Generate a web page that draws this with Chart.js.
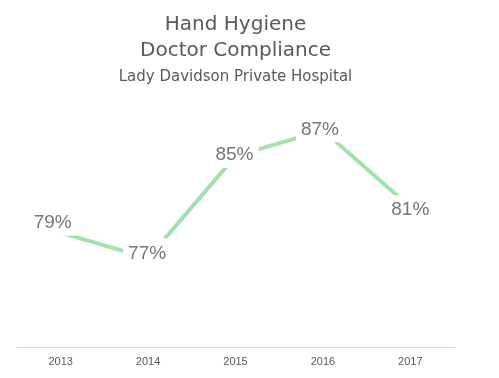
<!DOCTYPE html>
<html>
<head>
<meta charset="utf-8">
<script src="https://cdn.jsdelivr.net/npm/chart.js"></script>
<style>
  body { margin: 0; background: #fff; }
  #wrap { width: 499px; height: 378px; position: relative; }
</style>
</head>
<body>
<div id="wrap"><canvas id="lineChart"></canvas></div>
<script>
const years = ["2013", "2014", "2015", "2016", "2017"];
const compliance = [79, 77, 85, 87, 81];

// draws the % labels on a white box so the line breaks around them
const pointLabels = {
  id: "pointLabels",
  afterDatasetsDraw(chart, args, opts) {
    const ctx = chart.ctx;
    const meta = chart.getDatasetMeta(0);
    ctx.save();
    ctx.font = opts.font;
    ctx.textAlign = "center";
    ctx.textBaseline = "middle";
    meta.data.forEach(function(pt, i) {
      const off = opts.offsets[i] || [0, 0];
      const x = pt.x + off[0];
      const y = pt.y + off[1];
      const txt = chart.data.datasets[0].data[i] + "%";
      const w = ctx.measureText(txt).width + 10;
      ctx.fillStyle = "#fff";
      ctx.fillRect(x - w / 2, y - 14, w, 28);
      ctx.fillStyle = opts.color;
      ctx.fillText(txt, x, y + 1);
    });
    ctx.restore();
  }
};

new Chart(document.getElementById("lineChart"), {
  type: "line",
  data: {
    labels: years,
    datasets: [{
      data: compliance,
      borderColor: "#a0e2aa",
      borderWidth: 4,
      pointRadius: 0,
      tension: 0,
      fill: false
    }]
  },
  options: {
    responsive: true,
    maintainAspectRatio: false,
    animation: false,
    layout: { padding: { left: 17, right: 45, top: 0, bottom: 1 } },
    plugins: {
      legend: { display: false },
      tooltip: { enabled: false },
      title: {
        display: true,
        text: ["Hand Hygiene", "Doctor Compliance"],
        color: "#595959",
        font: { family: "DejaVu Sans", size: 20, weight: "normal", lineHeight: 1.3 },
        padding: { top: 12, bottom: 0 }
      },
      subtitle: {
        display: true,
        text: "Lady Davidson Private Hospital",
        color: "#595959",
        font: { family: "DejaVu Sans", size: 15, weight: "normal", lineHeight: 1.2 },
        padding: { top: 4, bottom: 6 }
      },
      pointLabels: {
        font: "19px 'Liberation Sans'",
        color: "#767676",
        offsets: [[-8, -11], [-1, -6], [-1, -2], [-3, -2], [0, 2]]
      }
    },
    scales: {
      x: {
        offset: true,
        grid: { display: false, drawTicks: false },
        border: { display: true, color: "#d9d9d9", width: 1 },
        ticks: {
          color: "#595959",
          padding: 8,
          font: { family: "Liberation Sans", size: 11 }
        }
      },
      y: {
        display: false,
        min: 70,
        max: 90
      }
    }
  },
  plugins: [pointLabels]
});
</script>
</body>
</html>
